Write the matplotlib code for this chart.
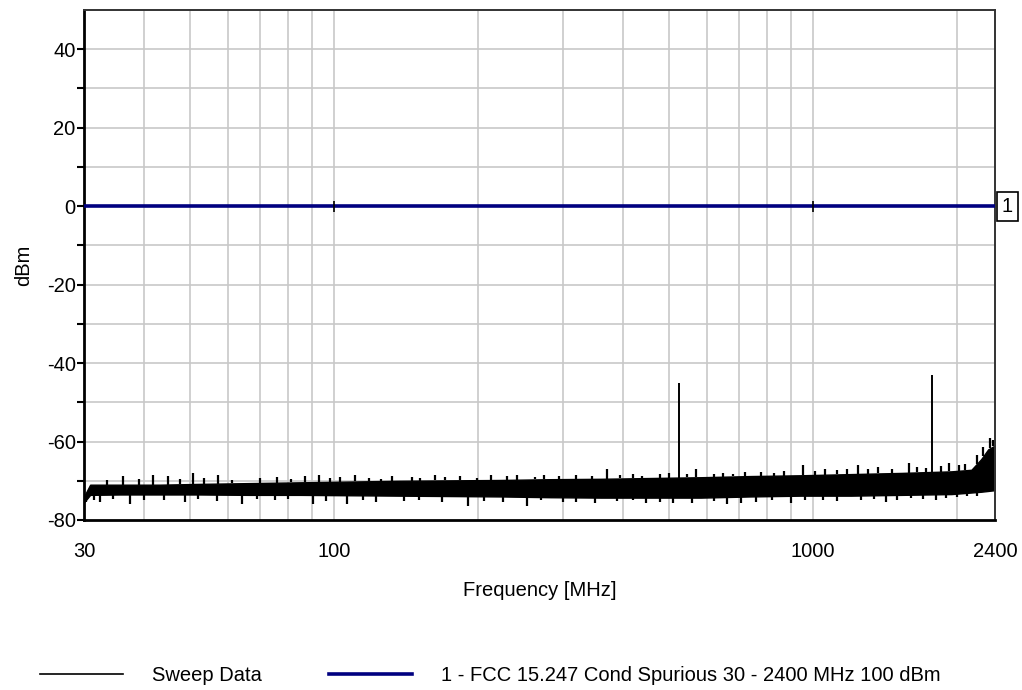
import numpy as np
import matplotlib.pyplot as plt
from matplotlib.ticker import FixedLocator, NullFormatter

plt.rcParams['font.family'] = ['Liberation Sans', 'DejaVu Sans']

# Sweep trace envelope (MHz, dBm)
band_freq = [30, 30.9, 35.7, 43.2, 52.3, 66.4, 84.9, 108, 137, 175, 222, 283,
             360, 458, 583, 742, 945, 1201, 1530, 1946, 2142, 2245, 2322, 2400]
band_hi = [-74.0, -71.0, -71.0, -71.0, -70.8, -70.6, -70.4, -70.2, -70.0, -69.9,
           -69.8, -69.6, -69.5, -69.3, -69.1, -68.8, -68.6, -68.3, -68.0, -67.6,
           -67.2, -64.5, -62.0, -61.0]
band_lo = [-75.5, -73.6, -73.5, -73.5, -73.5, -73.6, -73.6, -73.7, -73.8, -73.9,
           -74.0, -74.2, -74.3, -74.3, -74.3, -74.0, -73.8, -73.8, -73.6, -73.4,
           -73.0, -72.8, -72.6, -72.4]

# noise peaks standing above the trace
peak_freq = [33.5, 36.2, 39, 41.8, 45.0, 47.5, 50.6, 53.5, 57.1, 61, 70, 76, 81,
             87.0, 92.7, 98, 103, 110.5, 118, 125, 132, 145, 151, 162.6, 170,
             183, 199, 212, 230, 241, 262, 274, 295, 320, 345, 372, 395, 420,
             440, 480, 500, 545, 569, 620, 650, 680, 720, 780, 830, 870, 954,
             1010, 1060, 1120, 1180, 1241, 1300, 1370, 1460, 1583, 1650, 1720,
             1850, 1928, 2020, 2080, 2200, 2270, 2340, 2380]
peak_val = [-69.8, -68.7, -69.5, -68.5, -68.7, -69.6, -68.0, -69.2, -68.5, -69.8,
            -69.4, -69.0, -69.6, -68.7, -68.5, -69.3, -69.0, -68.5, -69.2, -69.6,
            -68.7, -69.0, -69.4, -68.5, -69.1, -68.9, -69.2, -68.5, -68.9, -68.5,
            -69.0, -68.5, -68.8, -68.6, -68.9, -67.0, -68.5, -68.2, -68.7, -68.3,
            -68.0, -68.4, -67.0, -68.2, -67.9, -68.3, -67.8, -67.7, -68.0, -67.6,
            -66.0, -67.5, -67.0, -67.3, -67.1, -66.0, -67.0, -66.6, -66.9, -65.4,
            -66.5, -66.8, -66.3, -65.4, -66.0, -65.8, -63.5, -61.5, -59.0, -59.5]

# noise dips below the trace
dip_freq = [30.3, 31.5, 32.4, 34.5, 37.4, 40, 44, 48.7, 52, 57, 64.1, 69, 75,
            80, 90.4, 96, 106.3, 115, 122, 140, 150, 168, 190.6, 205, 225, 253,
            270, 300, 320, 351, 390, 420, 447, 480, 510, 560, 620, 660, 708,
            760, 820, 900, 960, 1050, 1120, 1260, 1340, 1420, 1500, 1600, 1700,
            1808, 1900, 2000, 2100, 2200]
dip_val = [-75.5, -74.8, -75.5, -74.6, -76.0, -75.0, -74.8, -75.5, -74.6, -75.2,
           -76.0, -74.7, -75.0, -74.6, -76.0, -75.2, -76.0, -75.0, -75.4, -75.2,
           -74.9, -75.3, -76.4, -75.1, -75.4, -76.4, -75.0, -75.3, -75.5, -75.6,
           -75.2, -75.0, -75.6, -75.3, -75.6, -75.6, -75.2, -75.8, -75.6, -75.3,
           -75.0, -75.6, -75.0, -74.8, -75.2, -75.0, -74.6, -75.4, -74.8, -74.5,
           -74.6, -75.0, -74.4, -74.2, -74.0, -73.8]

# spurious emissions
spur_freq = [525, 1775]
spur_val = [-45, -43]

# limit line
limit_freq = [30, 2400]
limit_val = [0, 0]
limit_label = '1 - FCC 15.247 Cond Spurious 30 - 2400 MHz 100 dBm'

fs = 14.5
fig = plt.figure(figsize=(10.22, 6.9), dpi=100)
ax = fig.add_axes([0.0822, 0.2464, 0.8914, 0.7391])

ax.set_xscale('log')
ax.set_xlim(30, 2400)
ax.set_ylim(-80, 50)

# grid
xgrid = [40, 50, 60, 70, 80, 90, 100, 200, 300, 400, 500, 600, 700, 800, 900, 1000, 2000]
for g in xgrid:
    ax.axvline(g, color='#c8c8c8', lw=1.2, zorder=0)
for g in range(-70, 50, 10):
    ax.axhline(g, color='#c8c8c8', lw=1.2, zorder=0)


def edge(f, env):
    return np.interp(np.log(f), np.log(band_freq), env)


# sweep data
ax.fill_between(band_freq, band_lo, band_hi, color='black', lw=1.0, zorder=2)
ax.vlines(peak_freq, edge(peak_freq, band_hi), peak_val, color='black', lw=1.6, zorder=2)
ax.vlines(dip_freq, dip_val, edge(dip_freq, band_lo), color='black', lw=1.6, zorder=2)
ax.vlines(spur_freq, edge(spur_freq, band_hi), spur_val, color='black', lw=1.4, zorder=2)
sweep_handle, = ax.plot([], [], color='black', lw=1.2)

# limit line with small markers at decades
limit_handle, = ax.plot(limit_freq, limit_val, color='#000080', lw=2.6, zorder=3)
ax.vlines([100, 1000], -1.4, 1.4, color='black', lw=1.2, zorder=4)
ax.text(1.0075, 0, '1', transform=ax.get_yaxis_transform(), ha='left', va='center',
        fontsize=fs, clip_on=False,
        bbox=dict(boxstyle='square,pad=0.25', fc='white', ec='black', lw=1.2))

# axes styling
for side in ['left', 'bottom']:
    ax.spines[side].set_linewidth(2)
for side in ['top', 'right']:
    ax.spines[side].set_linewidth(1.4)
    ax.spines[side].set_color('#333333')

ax.yaxis.set_major_locator(FixedLocator([-80, -60, -40, -20, 0, 20, 40]))
ax.yaxis.set_minor_locator(FixedLocator([-70, -50, -30, -10, 10, 30]))
ax.yaxis.set_major_formatter(plt.FuncFormatter(lambda v, p: f'{v:g}'))
ax.tick_params(axis='y', which='both', direction='out', length=5, width=1.5,
               labelsize=fs, pad=1)
ax.xaxis.set_major_locator(FixedLocator([30, 100, 1000, 2400]))
ax.xaxis.set_major_formatter(plt.FuncFormatter(lambda v, p: f'{v:g}'))
ax.xaxis.set_minor_locator(FixedLocator([]))
ax.xaxis.set_minor_formatter(NullFormatter())
ax.tick_params(axis='x', which='both', length=0, labelsize=fs, pad=16)

ax.set_xlabel('Frequency [MHz]', fontsize=fs, labelpad=14)
ax.set_ylabel('dBm', fontsize=fs, labelpad=10)

fig.legend([sweep_handle, limit_handle], ['Sweep Data', limit_label],
           loc='center left', bbox_to_anchor=(0.0215, 0.0215), ncol=2, frameon=False,
           fontsize=fs, handlelength=4.1, handletextpad=1.45, columnspacing=3.35)

fig.savefig('out.png', dpi=100)
